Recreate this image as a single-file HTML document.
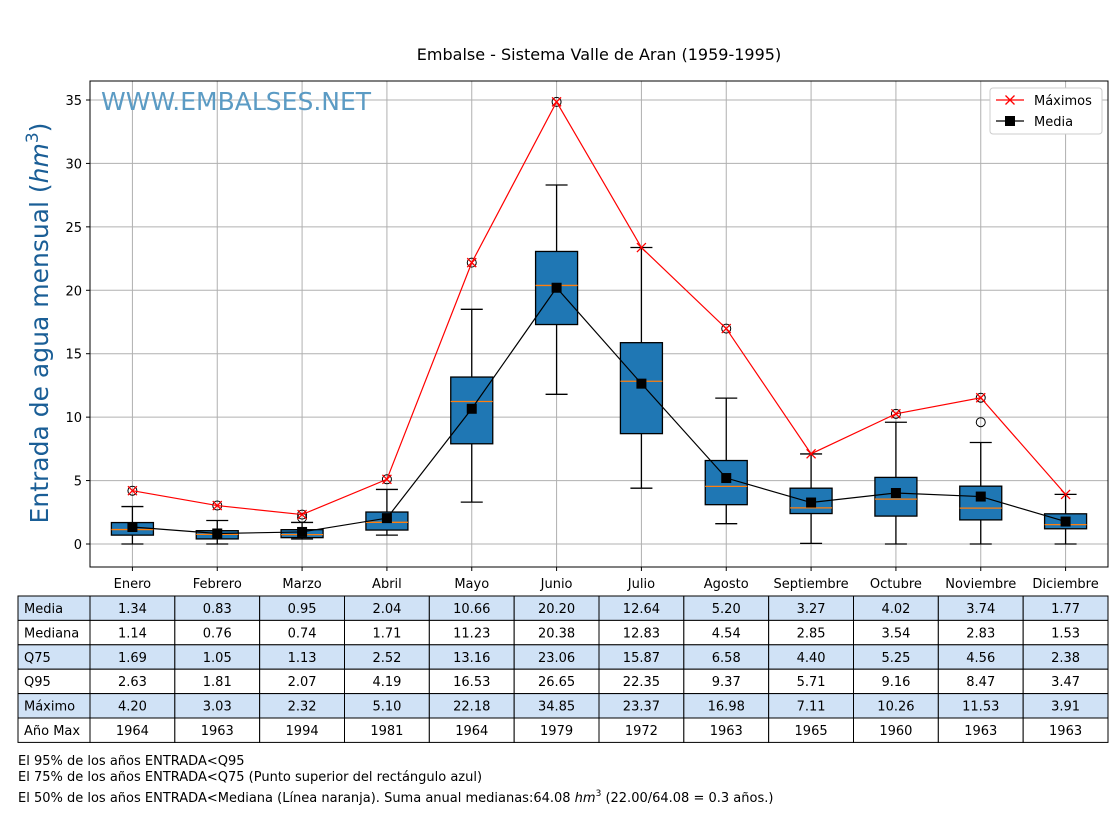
<!DOCTYPE html>
<html><head><meta charset="utf-8"><style>
body{margin:0;background:#fff;width:1120px;height:810px;overflow:hidden;font-family:"Liberation Sans","DejaVu Sans",sans-serif}
svg text{font-family:"DejaVu Sans","Liberation Sans",sans-serif}
</style></head><body>
<svg id="c" width="1120" height="810"></svg>
<script>
const months=["Enero","Febrero","Marzo","Abril","Mayo","Junio","Julio","Agosto","Septiembre","Octubre","Noviembre","Diciembre"];
const media=[1.34,0.83,0.95,2.04,10.66,20.20,12.64,5.20,3.27,4.02,3.74,1.77];
const mediana=[1.14,0.76,0.74,1.71,11.23,20.38,12.83,4.54,2.85,3.54,2.83,1.53];
const q75=[1.69,1.05,1.13,2.52,13.16,23.06,15.87,6.58,4.40,5.25,4.56,2.38];
const q25=[0.7,0.4,0.5,1.1,7.9,17.3,8.7,3.1,2.4,2.2,1.9,1.2];
const q95=[2.63,1.81,2.07,4.19,16.53,26.65,22.35,9.37,5.71,9.16,8.47,3.47];
const maximo=[4.20,3.03,2.32,5.10,22.18,34.85,23.37,16.98,7.11,10.26,11.53,3.91];
const anoMax=[1964,1963,1994,1981,1964,1979,1972,1963,1965,1960,1963,1963];
const whiskLo=[0,0,0.4,0.7,3.3,11.8,4.4,1.6,0.05,0,0,0];
const whiskHi=[2.95,1.85,1.7,4.3,18.5,28.3,23.37,11.5,7.1,9.6,8.0,3.91];
const outliers=[[4.2],[3.03],[2.07,2.32],[5.1],[22.18],[34.85],[],[16.98],[],[10.26],[9.6,11.53],[]];
const yTicks=[0,5,10,15,20,25,30,35];

const NS="http://www.w3.org/2000/svg";
const svg=document.getElementById('c');
function el(t,a,txt){const e=document.createElementNS(NS,t);for(const k in a)e.setAttribute(k,a[k]);if(txt!==undefined)e.textContent=txt;svg.appendChild(e);return e;}
const L=90,R=1108,T=81,B=567;
const X=i=>L+(i+0.5)*(R-L)/12;
const Y=v=>544-v*12.686;

for(const t of yTicks){
 const g=el('line',{x1:L,x2:R,y1:Y(t),y2:Y(t),stroke:'#b0b0b0','stroke-width':1});
 
 
 el('line',{x1:L-4,x2:L,y1:Y(t),y2:Y(t),stroke:'#000'});
 const tx=el('text',{x:L-8,y:Y(t)+5,'text-anchor':'end','font-size':13},t);
 
 
}
months.forEach((m,i)=>{
 const g=el('line',{x1:X(i),x2:X(i),y1:T,y2:B,stroke:'#b0b0b0','stroke-width':1});
 
 
 el('line',{x1:X(i),x2:X(i),y1:B,y2:B+4,stroke:'#000'});
 const tx=el('text',{x:X(i),y:B+21,'text-anchor':'middle','font-size':13},m);
 
 
});
const wm=el('text',{x:101,y:110,'font-size':25,fill:'#5b9bc4'},'WWW.EMBALSES.NET');



months.forEach((m,i)=>{
 const x=X(i),hw=21;
 el('line',{x1:x,x2:x,y1:Y(whiskLo[i]),y2:Y(q25[i]),stroke:'#000','stroke-width':1.3});
 el('line',{x1:x,x2:x,y1:Y(whiskHi[i]),y2:Y(q75[i]),stroke:'#000','stroke-width':1.3});
 el('line',{x1:x-11,x2:x+11,y1:Y(whiskLo[i]),y2:Y(whiskLo[i]),stroke:'#000','stroke-width':1.3});
 el('line',{x1:x-11,x2:x+11,y1:Y(whiskHi[i]),y2:Y(whiskHi[i]),stroke:'#000','stroke-width':1.3});
 const b=el('rect',{x:x-hw,y:Y(q75[i]),width:2*hw,height:Y(q25[i])-Y(q75[i]),fill:'#1f77b4',stroke:'#000','stroke-width':1.3});
 
 
 el('line',{x1:x-hw,x2:x+hw,y1:Y(mediana[i]),y2:Y(mediana[i]),stroke:'#ff7f0e','stroke-width':1.3});
 for(const o of outliers[i]){
  const c=el('circle',{cx:x,cy:Y(o),r:4.5,fill:'none',stroke:'#000'});
  
  
 }
});
const pm=el('polyline',{points:media.map((v,i)=>X(i)+','+Y(v)).join(' '),fill:'none',stroke:'#000','stroke-width':1.2});


media.forEach((v,i)=>{const r=el('rect',{x:X(i)-5,y:Y(v)-5,width:10,height:10,fill:'#000'});
 
 });
const px=el('polyline',{points:maximo.map((v,i)=>X(i)+','+Y(v)).join(' '),fill:'none',stroke:'#f00','stroke-width':1.2});


maximo.forEach((v,i)=>{const x=X(i),y=Y(v);
 el('path',{d:`M${x-4.5},${y-4.5}L${x+4.5},${y+4.5}M${x-4.5},${y+4.5}L${x+4.5},${y-4.5}`,stroke:'#f00','stroke-width':1.3});});
el('rect',{x:L,y:T,width:R-L,height:B-T,fill:'none',stroke:'#000','stroke-width':1});

// legend
const lg=el('rect',{x:990,y:88,width:112,height:46,rx:3,fill:'#fff',stroke:'#ccc'});


el('line',{x1:996,x2:1024,y1:100,y2:100,stroke:'#f00','stroke-width':1.2});
el('path',{d:'M1005.5,95.5L1014.5,104.5M1005.5,104.5L1014.5,95.5',stroke:'#f00','stroke-width':1.3});
el('text',{x:1034,y:105,'font-size':13},'Máximos');
el('line',{x1:996,x2:1024,y1:121,y2:121,stroke:'#000','stroke-width':1.2});
el('rect',{x:1005,y:116,width:10,height:10,fill:'#000'});
el('text',{x:1034,y:126,'font-size':13},'Media');

const tt=el('text',{x:599,y:60,'text-anchor':'middle','font-size':16},'Embalse - Sistema Valle de Aran (1959-1995)');


const yl=el('text',{x:0,y:0,transform:'translate(48,323) rotate(-90)','text-anchor':'middle','font-size':25,fill:'#1a5e96'});
yl.innerHTML='Entrada de agua mensual (<tspan font-style="italic">hm</tspan><tspan dy="-10" font-size="17">3</tspan><tspan dy="10">)</tspan>';



// table
const rows=[["Media",media.map(v=>v.toFixed(2))],["Mediana",mediana.map(v=>v.toFixed(2))],["Q75",q75.map(v=>v.toFixed(2))],["Q95",q95.map(v=>v.toFixed(2))],["Máximo",maximo.map(v=>v.toFixed(2))],["Año Max",anoMax.map(String)]];
const rh=24.4,ty=596,cw=(R-L)/12;
rows.forEach((r,ri)=>{
 const y=ty+ri*rh,fill=ri%2==0?'#d0e2f6':'#fff';
 const h=el('rect',{x:18,y:y,width:L-18,height:rh,fill:fill,stroke:'#000'});
 
 
 el('text',{x:24,y:y+17,'font-size':13},r[0]);
 r[1].forEach((v,i)=>{
  el('rect',{x:L+i*cw,y:y,width:cw,height:rh,fill:fill,stroke:'#000'});
  const t=el('text',{x:L+i*cw+cw/2,y:y+17,'text-anchor':'middle','font-size':13},v);
  
  
 });
});
const n1=el('text',{x:18,y:765,'font-size':13},'El 95% de los años ENTRADA<Q95');

const n2=el('text',{x:18,y:781,'font-size':13},'El 75% de los años ENTRADA<Q75 (Punto superior del rectángulo azul)');

const n3=el('text',{x:18,y:802,'font-size':13});
n3.innerHTML='El 50% de los años ENTRADA&lt;Mediana (Línea naranja). Suma anual medianas:64.08 <tspan font-style="italic">hm</tspan><tspan dy="-6" font-size="9">3</tspan><tspan dy="6"> (22.00/64.08 = 0.3 años.)</tspan>';

</script>
</body></html>
